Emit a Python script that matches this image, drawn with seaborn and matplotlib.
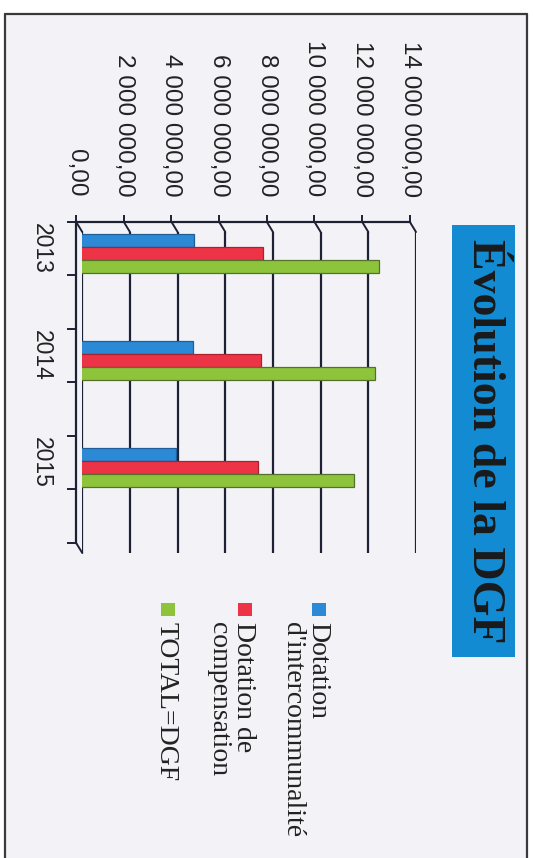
import pandas as pd
import matplotlib.pyplot as plt
import seaborn as sns
from matplotlib.patches import Rectangle, ConnectionPatch
from matplotlib.ticker import MultipleLocator, FuncFormatter
from matplotlib.transforms import ScaledTranslation

# data (in euros)
years = ["2013", "2014", "2015"]
series = ["Dotation\nd'intercommunalité", "Dotation de\ncompensation", "TOTAL=DGF"]
dot_interco = [4850000, 4810000, 4100000]
dot_compens = [7760000, 7680000, 7520000]
total_dgf = [12610000, 12450000, 11560000]
colors = ["#2b89d6", "#ec3446", "#8dc43c"]
edge_colors = ["#1d5f99", "#a8222f", "#55702a"]

W, H = 533, 858
DARK = "#1d2133"

df = pd.DataFrame({
    "annee": years * 3,
    "serie": [series[0]] * 3 + [series[1]] * 3 + [series[2]] * 3,
    "valeur": dot_interco + dot_compens + total_dgf,
})


def fx(px):
    return px / W


def fy(py):
    return 1 - py / H


def fr_format(v, pos=None):
    return f"{v:,.2f}".replace(",", " ").replace(".", ",")


sns.set_theme(style="white")
plt.rcParams["font.family"] = ["Liberation Sans", "DejaVu Sans"]

fig = plt.figure(figsize=(W / 100, H / 100), dpi=100, facecolor="white")

# page of the scanned document
fig.patches.append(Rectangle((fx(5), 0), fx(522), fy(14), transform=fig.transFigure,
                             facecolor="#f3f3f7", edgecolor="none", zorder=-5))
for xs, ys in [((5, 5), (14, 858)), ((5, 527), (14, 14)), ((527, 527), (14, 858))]:
    fig.add_artist(plt.Line2D([fx(xs[0]), fx(xs[1])], [fy(ys[0]), fy(ys[1])],
                              transform=fig.transFigure, color="#3a3a3a", lw=1.6))

# back wall (bars + grid)
ax = fig.add_axes([fx(82.3), fy(553), fx(416 - 82.3), (553 - 232) / H])
ax.set_facecolor("none")
sns.barplot(data=df, x="valeur", y="annee", hue="serie", orient="h", width=0.36,
            palette=colors, hue_order=series, order=years, legend=False, ax=ax,
            saturation=1, errorbar=None)
shift = ScaledTranslation(-4 / 100, 0, fig.dpi_scale_trans)
for i, bars in enumerate(ax.containers):
    for p in bars:
        p.set_edgecolor(edge_colors[i])
        p.set_linewidth(0.9)
        p.set_transform(ax.transData + shift)
ax.set_xlim(0, 14000000)
ax.set_ylim(2.8, -0.2)
ax.xaxis.set_major_locator(MultipleLocator(2000000))
ax.grid(axis="x", color=DARK, lw=1.6)
ax.grid(axis="y", visible=False)
for s in ax.spines.values():
    s.set_visible(False)
ax.tick_params(left=False, bottom=False, labelleft=False, labelbottom=False)
ax.set_xlabel("")
ax.set_ylabel("")

# front axes (ticks and labels), shifted like a 3D floor
axf = fig.add_axes([fx(76), fy(542.7), fx(416 - 82.3), (553 - 232) / H])
axf.set_facecolor("none")
axf.set_xlim(0, 14000000)
axf.set_ylim(2.8, -0.2)
axf.xaxis.set_major_locator(MultipleLocator(2000000))
axf.xaxis.set_major_formatter(FuncFormatter(fr_format))
axf.xaxis.tick_top()
axf.set_yticks([i + 0.05 for i in range(len(years))], years)
axf.set_yticks([-0.2 + 0.5 * k for k in range(7)], minor=True)
axf.tick_params(axis="x", which="major", direction="out", length=5, width=1.4,
                color=DARK, pad=13, labelsize=17.5, labelcolor="#222222", labelrotation=-90)
axf.tick_params(axis="y", which="major", length=0, pad=17, labelsize=16.5,
                labelcolor="#222222", labelrotation=-90)
axf.tick_params(axis="y", which="minor", direction="out", length=6.5, width=1.4,
                color=DARK, left=True)
for lab in axf.get_yticklabels():
    lab.set_va("center")
for name, s in axf.spines.items():
    s.set_visible(name in ("top", "left"))
    s.set_color(DARK)
    s.set_linewidth(1.6)

# diagonal links between front and back
for v in range(0, 14000001, 2000000):
    fig.add_artist(ConnectionPatch(xyA=(v, -0.2), coordsA=axf.transData,
                                   xyB=(v, -0.2), coordsB=ax.transData,
                                   color=DARK, lw=1.4))
fig.add_artist(ConnectionPatch(xyA=(0, 2.8), coordsA=axf.transData,
                               xyB=(0, 2.8), coordsB=ax.transData,
                               color=DARK, lw=1.4))

# title box
fig.patches.append(Rectangle((fx(452), fy(657)), fx(515 - 452), (657 - 225) / H,
                             transform=fig.transFigure, facecolor="#128bd3",
                             edgecolor="none", zorder=1))
fig.text(fx(483.5), fy(441), "Évolution de la DGF", rotation=-90, rotation_mode="anchor",
         ha="center", va="center", fontsize=33, fontweight="bold",
         family=["Liberation Serif", "DejaVu Serif"], color="#1a1a1a", zorder=2)

# legend
leg_x = [330, 256, 179]
for i, lab in enumerate(series):
    fig.patches.append(Rectangle((fx(leg_x[i] - 18), fy(616)), fx(14), 13 / H,
                                 transform=fig.transFigure, facecolor=colors[i],
                                 edgecolor="none"))
    fig.text(fx(leg_x[i]), fy(622), lab, rotation=-90, rotation_mode="anchor",
             ha="left", va="top", fontsize=20, linespacing=0.98,
             family=["Liberation Serif", "DejaVu Serif"], color="#222222")

fig.savefig("out.png", dpi=100, facecolor=fig.get_facecolor())
